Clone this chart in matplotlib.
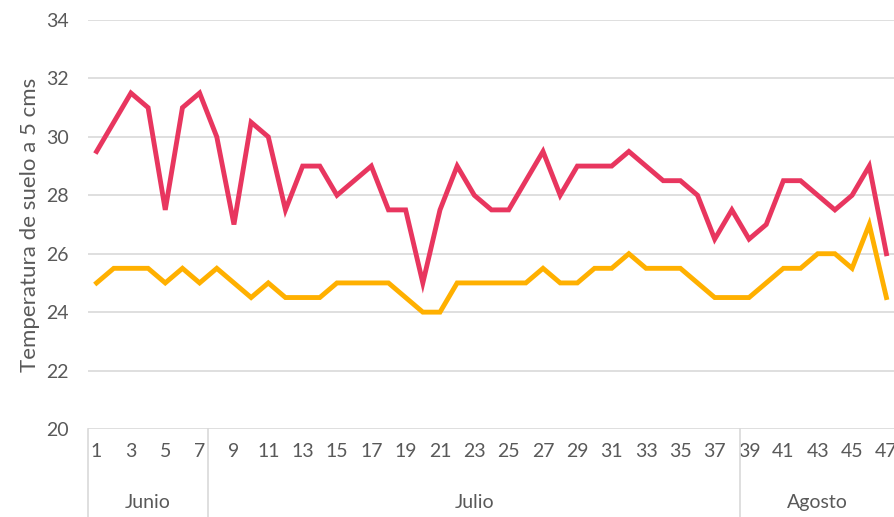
import matplotlib
matplotlib.use("Agg")
import matplotlib.pyplot as plt
import matplotlib.transforms as mtransforms

# dias de medicion (1..47) y temperaturas a 5 cm
dias = list(range(1, 48))
temp_max = [29.5, 30.5, 31.5, 31, 27.5, 31, 31.5, 30, 27, 30.5,
            30, 27.5, 29, 29, 28, 28.5, 29, 27.5, 27.5, 25,
            27.5, 29, 28, 27.5, 27.5, 28.5, 29.5, 28, 29, 29,
            29, 29.5, 29, 28.5, 28.5, 28, 26.5, 27.5, 26.5, 27,
            28.5, 28.5, 28, 27.5, 28, 29, 26]
temp_min = [25, 25.5, 25.5, 25.5, 25, 25.5, 25, 25.5, 25, 24.5,
            25, 24.5, 24.5, 24.5, 25, 25, 25, 25, 24.5, 24,
            24, 25, 25, 25, 25, 25, 25.5, 25, 25, 25.5,
            25.5, 26, 25.5, 25.5, 25.5, 25, 24.5, 24.5, 24.5, 25,
            25.5, 25.5, 26, 26, 25.5, 27, 24.5]
meses = ["Junio", "Julio", "Agosto"]
mes_inicio = [1, 8, 39]
mes_fin = [7, 38, 47]
y_ticks = [20, 22, 24, 26, 28, 30, 32, 34]

plt.rcParams["font.family"] = ["Lato", "DejaVu Sans"]

gray = "#595959"
grid = "#d9d9d9"

fig = plt.figure(figsize=(8.95, 5.17), dpi=100)
ax = fig.add_axes([88 / 895, 1 - 429 / 517, 1 - 88 / 895, (429 - 20) / 517])

ax.plot(dias, temp_max, color="#e8365f", lw=3.5, solid_joinstyle="miter")
ax.plot(dias, temp_min, color="#ffb000", lw=3.5, solid_joinstyle="miter")

ax.set_ylim(20, 34)
ax.set_xlim(0.5, 47.5)
ax.set_yticks(y_ticks)
ax.set_yticklabels([str(v) for v in y_ticks])
ax.yaxis.grid(True, color=grid, lw=1.2)
ax.set_axisbelow(True)
for s in ax.spines.values():
    s.set_visible(False)
ax.tick_params(axis="y", length=0, labelsize=14, labelcolor=gray, pad=14)

impares = [d for d in dias if d % 2 == 1]
ax.set_xticks(impares)
ax.set_xticklabels([str(d) for d in impares])
ax.tick_params(axis="x", length=0, labelsize=14, labelcolor=gray, pad=10)

ax.set_ylabel("Temperatura de suelo a 5 cms", color=gray, fontsize=16, labelpad=4)

# caja de categorias bajo el eje
trans = mtransforms.blended_transform_factory(ax.transData, ax.transAxes)
bordes = [mes_inicio[0] - 0.5] + [f + 0.5 for f in mes_fin[:-1]]
for b in bordes:
    ax.plot([b, b], [0, -0.3], transform=trans, color=grid, lw=1.2, clip_on=False)
for m, a, b in zip(meses, mes_inicio, mes_fin):
    ax.text((a + b) / 2, -0.18, m, transform=trans, ha="center", va="center",
            color=gray, fontsize=14)

fig.savefig("out.png", dpi=100)
